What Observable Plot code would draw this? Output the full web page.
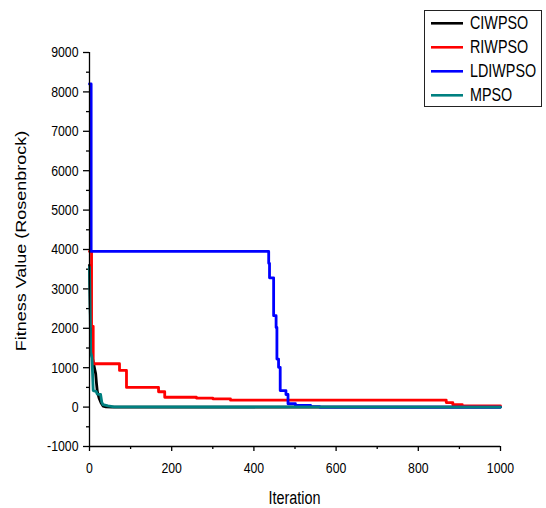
<!DOCTYPE html>
<html>
<head>
<meta charset="utf-8">
<script src="https://cdn.jsdelivr.net/npm/d3@7"></script>
<script src="https://cdn.jsdelivr.net/npm/@observablehq/plot@0.6"></script>
<style>
  html, body { margin: 0; padding: 0; background: #fff; }
  svg { display: block; }
</style>
</head>
<body>
<div id="chart"></div>
<script>
// ---- Data ----
const seriesNames = ["CIWPSO", "RIWPSO", "LDIWPSO", "MPSO"];
const seriesColors = ["#000000", "#ff0000", "#0000ff", "#008080"];

// [iteration, fitness value]
const ciwpso = [[0,3600],[2,2400],[4,1600],[7,1250],[10,1100],[13,950],[15,850],[17,600],[19,400],[23,240],[28,110],[33,25],[40,8],[55,0],[1000,0]];
const riwpso = [[0,3950],[5,2050],[9,1100],[73,930],[90,500],[168,390],[183,250],[260,230],[300,210],[343,175],[868,115],[884,60],[907,30],[1000,25]];
const ldiwpso = [[0,8200],[4,3950],[436,3650],[438,3280],[448,2320],[454,2020],[456,1220],[460,1010],[464,420],[478,320],[483,85],[501,40],[538,10],[560,0],[1000,0]];
const mpso = [[0,3550],[1,3000],[3,1400],[6,1250],[9,420],[16,400],[19,330],[27,320],[30,120],[33,60],[45,30],[60,5],[1000,0]];

const yTicks = [-1000,0,1000,2000,3000,4000,5000,6000,7000,8000,9000];
const yMinorTicks = [-500,500,1500,2500,3500,4500,5500,6500,7500,8500];
const xTicks = [0,200,400,600,800,1000];
const xMinorTicks = [100,300,500,700,900];

const xTitle = "Iteration";
const yTitle = "Fitness Value (Rosenbrock)";

// ---- Build ----
const FONT = "'Liberation Sans', Arial, Helvetica, sans-serif";
const SQUEEZE = 0.82; // the reference text is horizontally condensed

const seriesData = [ciwpso, riwpso, ldiwpso, mpso];
const curves = ["linear", "step-after", "step-after", "linear"];

const lineMarks = seriesData.map((d, i) =>
  Plot.line(d, {x: p => p[0], y: p => p[1], stroke: seriesColors[i], strokeWidth: 2.8, curve: curves[i]})
);

const chart = Plot.plot({
  width: 546,
  height: 508,
  marginLeft: 89,
  marginRight: 46,
  marginTop: 52,
  marginBottom: 62,
  style: {fontFamily: FONT, fontSize: "15px", color: "#000", background: "#fff", overflow: "visible"},
  x: {domain: [0, 1000]},
  y: {domain: [-1000, 9000]},
  marks: [
    Plot.axisX(xTicks, {anchor: "bottom", tickSize: 5, tickPadding: 11, tickFormat: d => String(d), label: null, fontSize: 15, stroke: "#000", strokeWidth: 1.3}),
    Plot.axisX(xMinorTicks, {anchor: "bottom", tickSize: 3, tickFormat: () => "", label: null, stroke: "#000", strokeWidth: 1.3}),
    Plot.axisY(yTicks, {anchor: "left", tickSize: 6, tickPadding: 5, tickFormat: d => String(d), label: null, fontSize: 15, stroke: "#000", strokeWidth: 1.3}),
    Plot.axisY(yMinorTicks, {anchor: "left", tickSize: 3, tickFormat: () => "", label: null, stroke: "#000", strokeWidth: 1.3}),
    ...lineMarks,
    Plot.ruleX([0], {stroke: "#000", strokeWidth: 1.3}),
    Plot.ruleY([-1000], {stroke: "#000", strokeWidth: 1.3})
  ]
});

const svg = d3.select(chart);

// condense tick label text horizontally, anchored at its own position
svg.selectAll("text").each(function() {
  const t = this.getAttribute("transform") || "";
  const x = this.getAttribute("x");
  if (x !== null && !t) {
    this.setAttribute("transform", `translate(${x},0) scale(${SQUEEZE},1)`);
    this.removeAttribute("x");
  } else {
    this.setAttribute("transform", `${t} scale(${SQUEEZE},1)`);
  }
});

// axis titles
svg.append("text")
  .attr("transform", `translate(294.5,504) scale(${SQUEEZE},1)`)
  .attr("text-anchor", "middle")
  .attr("font-family", FONT)
  .attr("font-size", 17.6)
  .attr("fill", "#000")
  .text(xTitle);

svg.append("text")
  .attr("transform", `translate(26,241) scale(${SQUEEZE},1) rotate(-90)`)
  .attr("text-anchor", "middle")
  .attr("font-family", FONT)
  .attr("font-size", 18)
  .attr("fill", "#000")
  .text(yTitle);

// legend
const lg = svg.append("g").attr("class", "legend").attr("text-anchor", "start");
lg.append("rect")
  .attr("x", 424.5).attr("y", 10.5).attr("width", 117).attr("height", 96)
  .attr("fill", "#fff").attr("stroke", "#222").attr("stroke-width", 1);
seriesNames.forEach((name, i) => {
  const yb = 29.3 + i * 24;
  lg.append("line")
    .attr("x1", 431).attr("x2", 463).attr("y1", yb - 6).attr("y2", yb - 6)
    .attr("stroke", seriesColors[i]).attr("stroke-width", 2.6);
  lg.append("text")
    .attr("transform", `translate(470,${yb}) scale(${SQUEEZE},1)`)
    .attr("text-anchor", "start")
    .attr("font-family", FONT)
    .attr("font-size", 17.5)
    .attr("fill", "#000")
    .text(name);
});

document.getElementById("chart").appendChild(chart);
</script>
</body>
</html>
